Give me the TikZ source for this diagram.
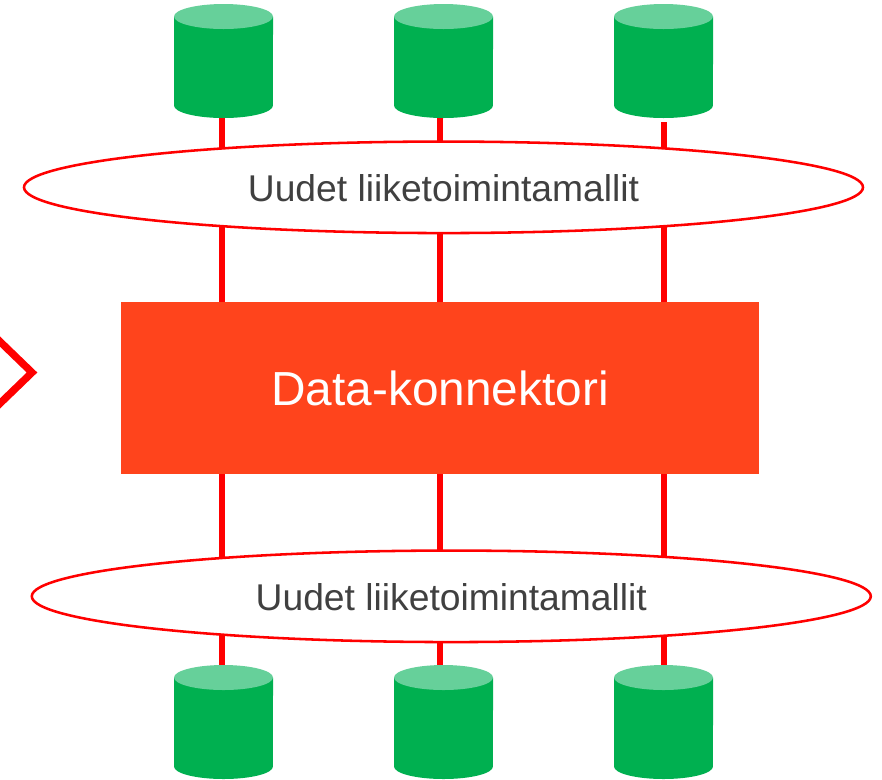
\documentclass[tikz,border=0pt]{standalone}
\usepackage{fontspec}
\setmainfont{Liberation Sans}
\usetikzlibrary{calc,shapes,backgrounds}
\definecolor{dataGreen}{HTML}{00B050}
\definecolor{dataLight}{HTML}{66D09A}
\definecolor{connRed}{HTML}{FF441C}
\definecolor{textGrey}{HTML}{404040}
\newcommand{\tikzDataNode}[2]{
  \node[inner sep=0pt,outer sep=0pt,minimum width=99*0.02cm,minimum height=114*0.02cm] (#1) at (#2) {};
  \fill[dataGreen] ($(#1.north west)+(0,12.5)$) -- ($(#1.south west)+(0,-12.5)$) arc[start angle=180,end angle=360,x radius=0.99cm,y radius=0.25cm] -- ($(#1.north east)+(0,12.5)$) -- cycle;
  \fill[dataLight] ($(#1.north)+(0,12.5)$) ellipse[x radius=0.99cm,y radius=0.25cm];
}

\begin{document}
\begin{tikzpicture}[x=0.02cm, y=-0.02cm, wire/.style={red,line width=3.4pt},
    model/.style={draw=red,line width=1.45pt,fill=white,ellipse,inner sep=0pt,minimum width=839*0.02cm,minimum height=91.5*0.02cm,text=textGrey,text height=16.5pt,font=\fontsize{21.2}{25}\selectfont}]
  \path[use as bounding box,clip] (0,0) rectangle (882,779);

  % chevron on the left edge
  \coordinate (a1) at (-12,330);
  \coordinate (a2) at (32,372.5);
  \coordinate (a3) at (-12,415);
  \draw[red,line width=4.2pt,miter limit=10] (a1) -- (a2) -- (a3);

  \node [fill=connRed,minimum width=638*0.02cm,minimum height=172*0.02cm,inner sep=0pt,text=white,font=\fontsize{27.2}{32}\selectfont] (conn) at (440, 388) {Data-konnektori};

  \node [model] (top) at (443.5, 187.3) {Uudet liiketoimintamallit};
  \node [model] (bottom) at (451.3, 596.3) {Uudet liiketoimintamallit};

  \tikzDataNode{d1}{223.5,61}
  \tikzDataNode{d2}{443.5,61}
  \tikzDataNode{d3}{663.5,61}
  \tikzDataNode{d4}{223.5,722}
  \tikzDataNode{d5}{443.5,722}
  \tikzDataNode{d6}{663.5,722}

  % x positions of the three wires
  \coordinate (w1) at (221.7,0);
  \coordinate (w2) at (440.3,0);
  \coordinate (w3) at (664,0);

  \begin{scope}[on background layer]
    \draw[wire] ($(w1 |- d1.south)+(0,-5)$) -- (w1 |- top.center);
    \draw[wire] ($(w2 |- d2.south)+(0,-5)$) -- (w2 |- top.center);
    \draw[wire] ($(w3 |- d3.south)+(0,4)$) -- (w3 |- top.center);
    \draw[wire] (w1 |- top.center) -- (w1 |- conn.north);
    \draw[wire] (w2 |- top.center) -- (w2 |- conn.north);
    \draw[wire] (w3 |- top.center) -- (w3 |- conn.north);
    \draw[wire] (w1 |- conn.south) -- (w1 |- bottom.center);
    \draw[wire] (w2 |- conn.south) -- (w2 |- bottom.center);
    \draw[wire] (w3 |- conn.south) -- (w3 |- bottom.center);
    \draw[wire] (w1 |- bottom.center) -- (w1 |- d4.north);
    \draw[wire] (w2 |- bottom.center) -- (w2 |- d5.north);
    \draw[wire] (w3 |- bottom.center) -- (w3 |- d6.north);
  \end{scope}
\end{tikzpicture}
\end{document}
